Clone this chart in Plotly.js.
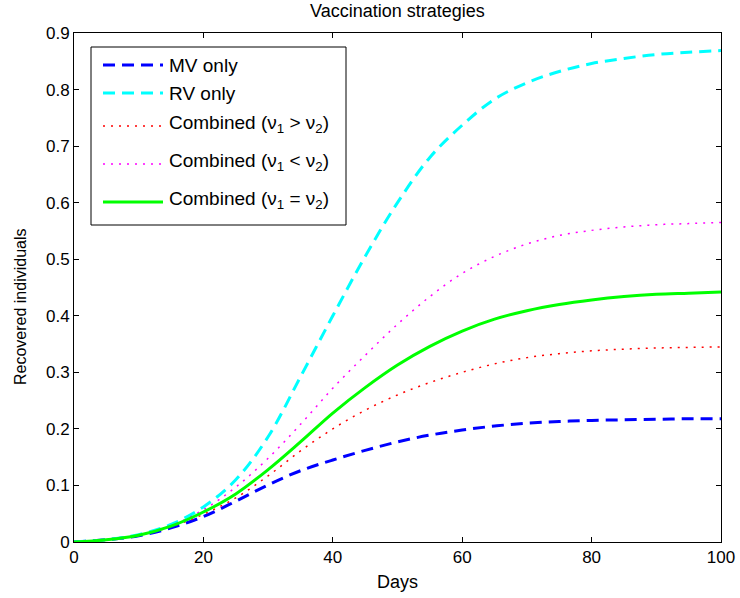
<!DOCTYPE html>
<html>
<head>
<meta charset="utf-8">
<script src="https://cdn.plot.ly/plotly-3.0.1.min.js"></script>
<style>
  html, body { margin: 0; padding: 0; background: #fff; }
  #chart { width: 740px; height: 598px; }
</style>
</head>
<body>
<div id="chart"></div>
<script>
// Days since start of the outbreak
const days = [0, 5, 10, 15, 20, 25, 30, 35, 40, 45, 50, 55, 60, 65, 70, 75, 80, 85, 90, 95, 100];

// Fraction of recovered individuals under each vaccination strategy
const mvOnly = [0, 0.004, 0.011, 0.025, 0.045, 0.072, 0.101, 0.126, 0.145, 0.162, 0.177, 0.189, 0.198, 0.205, 0.210, 0.213, 0.215, 0.216, 0.217, 0.218, 0.218];
const rvOnly = [0, 0.004, 0.013, 0.031, 0.062, 0.110, 0.186, 0.292, 0.400, 0.505, 0.600, 0.680, 0.737, 0.783, 0.812, 0.832, 0.846, 0.855, 0.862, 0.866, 0.869];
const combGt = [0, 0.004, 0.012, 0.027, 0.049, 0.078, 0.117, 0.161, 0.200, 0.233, 0.260, 0.282, 0.300, 0.315, 0.326, 0.333, 0.338, 0.341, 0.343, 0.344, 0.345];
const combLt = [0, 0.004, 0.012, 0.029, 0.057, 0.097, 0.148, 0.208, 0.272, 0.330, 0.385, 0.434, 0.475, 0.505, 0.527, 0.542, 0.551, 0.557, 0.561, 0.563, 0.565];
const combEq = [0, 0.004, 0.012, 0.028, 0.053, 0.085, 0.128, 0.177, 0.228, 0.273, 0.313, 0.346, 0.373, 0.394, 0.409, 0.420, 0.428, 0.434, 0.438, 0.440, 0.442];

const seriesNames = [
  'MV only',
  'RV only',
  'Combined (\u03bd<sub>1</sub> &gt; \u03bd<sub>2</sub>)',
  'Combined (\u03bd<sub>1</sub> &lt; \u03bd<sub>2</sub>)',
  'Combined (\u03bd<sub>1</sub> = \u03bd<sub>2</sub>)'
];

const xTicks = [0, 20, 40, 60, 80, 100];
const yTicks = [0, 0.1, 0.2, 0.3, 0.4, 0.5, 0.6, 0.7, 0.8, 0.9];

const font = 'Liberation Sans, Arial, Helvetica, sans-serif';

// Plot frame in page pixels, used to place the boxed legend and the y label
const W = 740, H = 598;
const M = { l: 74, r: 19, t: 33, b: 56 };
const plotW = W - M.l - M.r, plotH = H - M.t - M.b;
const px = x => (x - M.l) / plotW;
const py = y => (H - M.b - y) / plotH;

const styles = [
  { color: '#0000ff', width: 3, dash: '12px,7px' },
  { color: '#00ffff', width: 3, dash: '12px,7px' },
  { color: '#ff0000', width: 1.5, dash: '2px,6px' },
  { color: '#ff00ff', width: 1.5, dash: '2px,6px' },
  { color: '#00ff00', width: 3, dash: 'solid' }
];

const values = [mvOnly, rvOnly, combGt, combLt, combEq];

const traces = values.map((v, i) => ({
  x: days, y: v, name: seriesNames[i], type: 'scatter', mode: 'lines',
  line: Object.assign({ shape: 'spline', smoothing: 1 }, styles[i]),
  showlegend: false
}));

// Boxed legend in the upper-left corner
const rowY = [65, 93, 126, 164, 202];
const textY = [65, 93, 124, 162, 200];
const shapes = [{
  type: 'rect', xref: 'paper', yref: 'paper',
  x0: px(91), x1: px(346), y0: py(225), y1: py(47),
  line: { color: '#000', width: 1 }, fillcolor: '#fff', layer: 'above'
}];
const annotations = [];
seriesNames.forEach((name, i) => {
  shapes.push({
    type: 'line', xref: 'paper', yref: 'paper', layer: 'above',
    x0: px(103), x1: px(163), y0: py(rowY[i]), y1: py(rowY[i]),
    line: { color: styles[i].color, width: styles[i].width, dash: styles[i].dash }
  });
  annotations.push({
    xref: 'paper', yref: 'paper', x: px(167), y: py(textY[i]),
    xanchor: 'left', yanchor: 'middle', showarrow: false,
    text: name, font: { family: font, size: 19, color: '#000' }
  });
});

// Vertical axis label
annotations.push({
  xref: 'paper', yref: 'paper', x: px(20), y: py(306),
  xanchor: 'center', yanchor: 'middle', showarrow: false, textangle: -90,
  text: 'Recovered individuals', font: { family: font, size: 16, color: '#000' }
});

const axisCommon = {
  showline: true, linecolor: '#000', linewidth: 1, mirror: 'ticks',
  ticks: 'inside', ticklen: 5, tickcolor: '#000', tickwidth: 1,
  showgrid: false, zeroline: false,
  tickfont: { family: font, size: 17, color: '#000' }
};

const layout = {
  width: W, height: H,
  margin: M,
  paper_bgcolor: '#fff', plot_bgcolor: '#fff',
  font: { family: font, color: '#000' },
  showlegend: false,
  title: {
    text: 'Vaccination strategies',
    font: { family: font, size: 18, color: '#000' },
    x: 0.5, xref: 'paper', xanchor: 'center', y: 1 - 11 / H, yanchor: 'middle', yref: 'container'
  },
  xaxis: Object.assign({}, axisCommon, {
    range: [0, 100], tickvals: xTicks, ticktext: xTicks.map(String),
    title: { text: 'Days', font: { family: font, size: 18, color: '#000' }, standoff: 8 }
  }),
  yaxis: Object.assign({}, axisCommon, {
    range: [0, 0.9], tickvals: yTicks, ticktext: yTicks.map(v => String(v))
  }),
  shapes: shapes,
  annotations: annotations
};

Plotly.newPlot('chart', traces, layout, { displayModeBar: false, staticPlot: true });
</script>
</body>
</html>
